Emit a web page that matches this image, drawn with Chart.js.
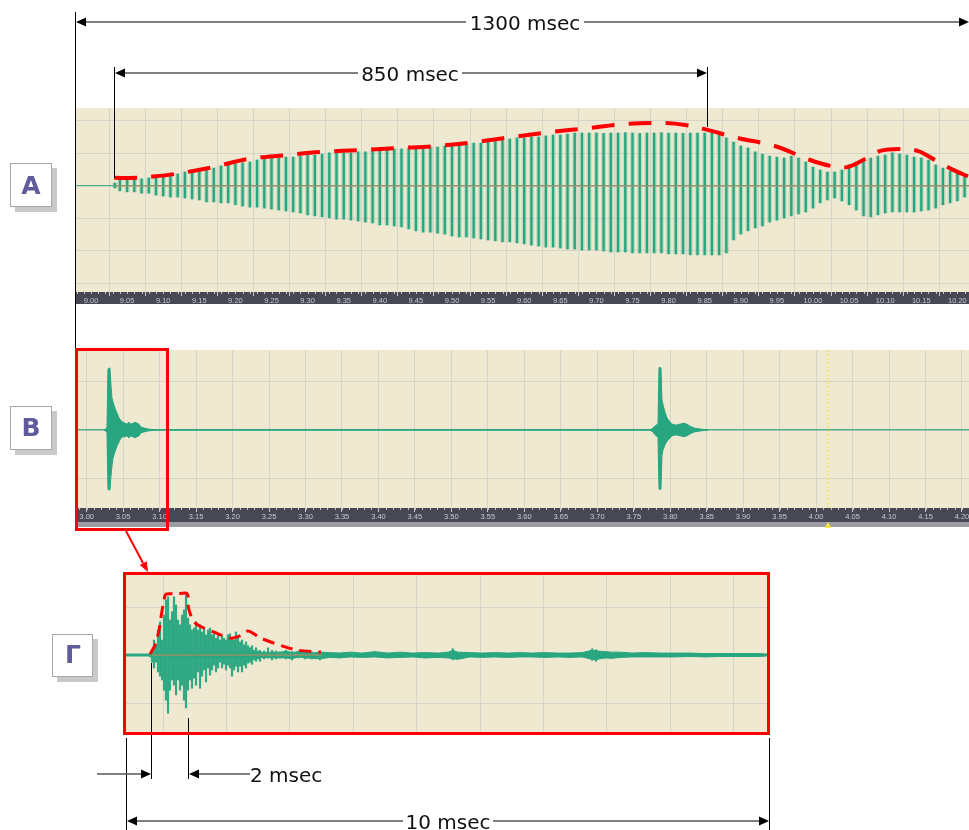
<!DOCTYPE html>
<html>
<head>
<meta charset="utf-8">
<title>Waveforms</title>
<script src="https://cdn.jsdelivr.net/npm/chart.js@4.4.1/dist/chart.umd.min.js"></script>
<style>
  html, body { margin: 0; padding: 0; background: #fff; }
  body { position: relative; width: 969px; height: 830px; overflow: hidden; font-family: "DejaVu Sans", Verdana, sans-serif; }
  .wave { position: absolute; }
  #overlay { position: absolute; left: 0; top: 0; pointer-events: none; }
  #overlay text { font-family: "DejaVu Sans", Verdana, sans-serif; }
</style>
</head>
<body>
<div class="wave" style="left:75px;top:108px;width:894px;height:196px"><canvas id="chartA" width="894" height="196"></canvas></div>
<div class="wave" style="left:75px;top:350px;width:894px;height:177px"><canvas id="chartB" width="894" height="177"></canvas></div>
<div class="wave" style="left:126px;top:575px;width:641px;height:157px"><canvas id="chartG" width="641" height="157"></canvas></div>

<svg id="overlay" width="969" height="830">
  <!-- label boxes -->
  <rect x="15" y="168" width="42" height="44" fill="#c9c9c9"/>
  <rect x="10.5" y="163.5" width="41" height="43" fill="#fff" stroke="#a8a8a8"/>
  <text x="31" y="193.5" font-size="25" font-weight="bold" fill="#5e5c9c" text-anchor="middle">А</text>
  <rect x="15" y="411" width="42" height="44" fill="#c9c9c9"/>
  <rect x="10.5" y="406.5" width="41" height="43" fill="#fff" stroke="#a8a8a8"/>
  <text x="31" y="436" font-size="25" font-weight="bold" fill="#5e5c9c" text-anchor="middle">В</text>
  <rect x="57" y="639" width="41" height="43" fill="#c9c9c9"/>
  <rect x="52.5" y="634.5" width="40" height="42" fill="#fff" stroke="#a8a8a8"/>
  <text x="73" y="663" font-size="25" font-weight="bold" fill="#5e5c9c" text-anchor="middle">Г</text>

  <!-- extension lines -->
  <g stroke="#000" stroke-width="1">
    <line x1="75.5" y1="12" x2="75.5" y2="350"/>
    <line x1="114.5" y1="67" x2="114.5" y2="178"/>
    <line x1="707.5" y1="67" x2="707.5" y2="127"/>
    <line x1="126.5" y1="738" x2="126.5" y2="830"/>
    <line x1="769.5" y1="738" x2="769.5" y2="830"/>
    <line x1="151.5" y1="663" x2="151.5" y2="779"/>
    <line x1="188.5" y1="718" x2="188.5" y2="779"/>
  </g>
  <!-- dimension lines -->
  <g stroke="#555" stroke-width="1.6">
    <line x1="84" y1="22" x2="960" y2="22"/>
    <line x1="123" y1="73" x2="698" y2="73"/>
    <line x1="97" y1="774" x2="142" y2="774"/>
    <line x1="197" y1="774" x2="250" y2="774"/>
    <line x1="135" y1="821" x2="760" y2="821"/>
  </g>
  <g fill="#000">
    <polygon points="76,22 86,17.5 86,26.5"/>
    <polygon points="969,22 959,17.5 959,26.5"/>
    <polygon points="115,73 125,68.5 125,77.5"/>
    <polygon points="707,73 697,68.5 697,77.5"/>
    <polygon points="151,774 141,769.5 141,778.5"/>
    <polygon points="189,774 199,769.5 199,778.5"/>
    <polygon points="127,821 137,816.5 137,825.5"/>
    <polygon points="769,821 759,816.5 759,825.5"/>
  </g>
  <g font-size="20" fill="#111">
    <rect x="466" y="11" width="118" height="22" fill="#fff"/>
    <text x="525" y="29.5" text-anchor="middle">1300 msec</text>
    <rect x="358" y="62" width="104" height="22" fill="#fff"/>
    <text x="410" y="80.5" text-anchor="middle">850 msec</text>
    <text x="250" y="781.5">2 msec</text>
    <rect x="403" y="810" width="90" height="22" fill="#fff"/>
    <text x="448" y="828.5" text-anchor="middle">10 msec</text>
  </g>

  <!-- red selection and zoom frame -->
  <rect x="76.5" y="349.5" width="91" height="180" fill="none" stroke="#ff0000" stroke-width="3"/>
  <line x1="126" y1="531" x2="143" y2="563" stroke="#ff0000" stroke-width="2"/>
  <polygon points="148,572 139.7,565.1 146.8,561.3" fill="#ff0000"/>
  <rect x="124.5" y="573.5" width="644" height="160" fill="none" stroke="#ff0000" stroke-width="3"/>
  <polygon points="828,522 824.5,528 831.5,528" fill="#f4e640"/>
</svg>

<script>
// ---- panel A : tone, 9.00 .. 10.20 s ----
const aTickLabels = ['9.00', '9.05', '9.10', '9.15', '9.20', '9.25', '9.30', '9.35', '9.40', '9.45', '9.50', '9.55',
    '9.60', '9.65', '9.70', '9.75', '9.80', '9.85', '9.90', '9.95', '10.00', '10.05', '10.10', '10.15', '10.20'];
const aGrid = [-3, -2, -1, 0, 1, 2];
const aTime = [
    9.033, 9.04, 9.05, 9.06, 9.07, 9.08, 9.09,
    9.10, 9.11, 9.12, 9.13, 9.14, 9.15, 9.16, 9.17, 9.18, 9.19,
    9.20, 9.21, 9.22, 9.23, 9.24, 9.25, 9.26, 9.27, 9.28, 9.29,
    9.30, 9.31, 9.32, 9.33, 9.34, 9.35, 9.36, 9.37, 9.38, 9.39,
    9.40, 9.41, 9.42, 9.43, 9.44, 9.45, 9.46, 9.47, 9.48, 9.49,
    9.50, 9.51, 9.52, 9.53, 9.54, 9.55, 9.56, 9.57, 9.58, 9.59,
    9.60, 9.61, 9.62, 9.63, 9.64, 9.65, 9.66, 9.67, 9.68, 9.69,
    9.70, 9.71, 9.72, 9.73, 9.74, 9.75, 9.76, 9.77, 9.78, 9.79,
    9.80, 9.81, 9.82, 9.83, 9.84, 9.85, 9.86, 9.87, 9.88, 9.89,
    9.90, 9.91, 9.92, 9.93, 9.94, 9.95, 9.96, 9.97, 9.98, 9.99,
    10.00, 10.01, 10.02, 10.03, 10.04, 10.05, 10.06, 10.07, 10.08, 10.09,
    10.10, 10.11, 10.12, 10.13, 10.14, 10.15, 10.16, 10.17, 10.18, 10.19,
    10.20, 10.21,
];
const aHi = [
    0.09, 0.18, 0.18, 0.22, 0.22, 0.25, 0.28,
    0.31, 0.34, 0.37, 0.43, 0.43, 0.49, 0.55, 0.55, 0.62, 0.65,
    0.68, 0.71, 0.74, 0.80, 0.83, 0.86, 0.86, 0.89, 0.89, 0.92,
    0.95, 0.95, 0.98, 1.02, 1.02, 1.02, 1.02, 1.05, 1.05, 1.08,
    1.11, 1.11, 1.14, 1.14, 1.17, 1.20, 1.20, 1.20, 1.20, 1.23,
    1.26, 1.26, 1.29, 1.32, 1.32, 1.35, 1.38, 1.42, 1.45, 1.48,
    1.48, 1.51, 1.51, 1.54, 1.57, 1.57, 1.60, 1.63, 1.63, 1.63,
    1.63, 1.62, 1.63, 1.63, 1.64, 1.63, 1.62, 1.63, 1.63, 1.64,
    1.63, 1.63, 1.62, 1.63, 1.63, 1.63, 1.63, 1.60, 1.48, 1.35,
    1.23, 1.17, 1.05, 0.98, 0.92, 0.89, 0.86, 0.92, 0.86, 0.74,
    0.58, 0.49, 0.43, 0.43, 0.49, 0.65, 0.74, 0.80, 0.86, 0.92,
    0.95, 1.02, 0.98, 0.95, 0.89, 0.86, 0.80, 0.65, 0.55, 0.46,
    0.43, 0.34,
];
const aLo = [
    -0.06, -0.15, -0.18, -0.18, -0.22, -0.22, -0.28,
    -0.31, -0.34, -0.34, -0.37, -0.40, -0.43, -0.49, -0.49, -0.52, -0.52,
    -0.58, -0.62, -0.65, -0.65, -0.68, -0.71, -0.74, -0.77, -0.80, -0.83,
    -0.89, -0.92, -0.95, -0.98, -1.02, -1.02, -1.05, -1.08, -1.11, -1.14,
    -1.20, -1.20, -1.23, -1.26, -1.32, -1.38, -1.42, -1.42, -1.45, -1.48,
    -1.54, -1.57, -1.57, -1.60, -1.63, -1.66, -1.69, -1.72, -1.72, -1.75,
    -1.78, -1.82, -1.85, -1.88, -1.88, -1.91, -1.94, -1.94, -1.97, -1.97,
    -1.97, -2.00, -2.03, -2.03, -2.03, -2.06, -2.06, -2.06, -2.06, -2.06,
    -2.09, -2.09, -2.09, -2.12, -2.12, -2.12, -2.12, -2.12, -2.06, -1.66,
    -1.48, -1.38, -1.29, -1.23, -1.11, -1.05, -0.98, -0.92, -0.86, -0.80,
    -0.68, -0.52, -0.43, -0.37, -0.46, -0.58, -0.74, -0.92, -0.95, -0.89,
    -0.83, -0.80, -0.80, -0.80, -0.80, -0.77, -0.74, -0.68, -0.58, -0.52,
    -0.46, -0.34,
];
// hand drawn red envelope over the tone
const aEnvT = [9.032, 9.064, 9.082, 9.116, 9.169, 9.217, 9.271, 9.321, 9.375, 9.428, 9.479, 9.532, 9.584, 9.636, 9.688,
    9.740, 9.792, 9.823, 9.850, 9.895, 9.947, 9.996, 10.024, 10.047, 10.072, 10.093, 10.120, 10.145, 10.169, 10.192, 10.216];
const aEnvV = [0.25, 0.25, 0.28, 0.37, 0.58, 0.83, 0.95, 1.05, 1.11, 1.17, 1.23, 1.35, 1.51, 1.66, 1.78,
    1.91, 1.94, 1.88, 1.75, 1.48, 1.23, 0.80, 0.62, 0.58, 0.83, 1.08, 1.14, 1.08, 0.80, 0.52, 0.28];

// ---- panel B : two clicks, 3.00 .. 4.20 s ----
const bTickLabels = ['3.00', '3.05', '3.10', '3.15', '3.20', '3.25', '3.30', '3.35', '3.40', '3.45', '3.50', '3.55',
    '3.60', '3.65', '3.70', '3.75', '3.80', '3.85', '3.90', '3.95', '4.00', '4.05', '4.10', '4.15', '4.20'];
const bGrid = [-1, 0, 1];
const bTime = [3.0237, 3.0278, 3.0292, 3.0319, 3.0333, 3.0347, 3.0361, 3.0388, 3.0416, 3.0443, 3.0470, 3.0498,
    3.0525, 3.0552, 3.0580, 3.0607, 3.0635, 3.0662, 3.0690, 3.0717, 3.0744, 3.0786, 3.0840, 3.0950,
    3.7722, 3.7763, 3.7804, 3.7832, 3.7846, 3.7873, 3.7887, 3.7901, 3.7928, 3.7956, 3.7983, 3.8024,
    3.8079, 3.8134, 3.8189, 3.8230, 3.8271, 3.8326, 3.8409, 3.8518];
const bHi = [0, 0.04, 1.26, 1.28, 0.93, 0.66, 0.58, 0.45, 0.35, 0.25, 0.19, 0.16,
    0.14, 0.12, 0.16, 0.12, 0.14, 0.16, 0.14, 0.12, 0.06, 0.04, 0.02, 0,
    0, 0.04, 0.10, 0.12, 1.29, 1.28, 0.62, 0.52, 0.37, 0.25, 0.19, 0.12,
    0.10, 0.12, 0.14, 0.12, 0.08, 0.04, 0.02, 0];
const bLo = [0, -0.04, -1.22, -1.24, -0.95, -0.74, -0.58, -0.45, -0.33, -0.25, -0.16, -0.14,
    -0.14, -0.12, -0.16, -0.12, -0.14, -0.16, -0.14, -0.12, -0.06, -0.04, -0.02, 0,
    0, -0.04, -0.12, -0.14, -1.22, -1.22, -0.52, -0.41, -0.31, -0.23, -0.19, -0.12,
    -0.10, -0.12, -0.14, -0.12, -0.08, -0.04, -0.02, 0];
const bCursor = 4.016;

// ---- panel Г : one click, 10 ms window (units of ms grid) ----
const gGridX = [0, 1, 2, 3, 4, 5, 6, 7, 8, 9, 10];
const gGridY = [-1, 0, 1];
// individual oscillations of the burst
const gTime = [
    0.295, 0.326, 0.358, 0.390, 0.421, 0.453, 0.484, 0.516, 0.547, 0.579, 0.610, 0.642, 0.673, 0.705, 0.737,
    0.768, 0.800, 0.831, 0.863, 0.894, 0.926, 0.957, 0.989, 1.020, 1.052, 1.084, 1.115, 1.147, 1.178, 1.210,
    1.241, 1.273, 1.304, 1.336, 1.368, 1.399, 1.431, 1.462, 1.494, 1.525, 1.557, 1.588, 1.620, 1.651, 1.683,
    1.715, 1.746, 1.778, 1.809, 1.841, 1.872, 1.904, 1.935, 1.967, 1.998, 2.030, 2.093, 2.156, 2.219, 2.282,
    2.345, 2.44, 2.535, 2.63, 2.74, 2.85, 2.976, 5.07, 7.27, 7.33,
];
const gHi = [
    0.04, 0.10, 0.31, 0.21, 0.52, 0.69, 0.31, 0.83, 1.15, 1.21, 0.73, 0.90, 1.21, 1.04, 0.73,
    0.63, 0.83, 0.94, 1.27, 0.77, 0.63, 0.52, 0.56, 0.69, 0.52, 0.63, 0.48, 0.56, 0.42, 0.52,
    0.56, 0.42, 0.48, 0.35, 0.42, 0.31, 0.40, 0.35, 0.31, 0.42, 0.44, 0.35, 0.31, 0.48, 0.35,
    0.27, 0.31, 0.21, 0.27, 0.19, 0.15, 0.19, 0.10, 0.15, 0.08, 0.10, 0.08, 0.15, 0.10, 0.08,
    0.06, 0.10, 0.07, 0.08, 0.10, 0.06, 0.08, 0.13, 0.13, 0.11,
];
const gLo = [
    -0.04, -0.15, -0.27, -0.15, -0.35, -0.44, -0.52, -0.73, -0.94, -1.21, -0.73, -0.52, -0.63, -0.83, -0.52,
    -0.73, -0.63, -0.94, -1.10, -0.73, -0.52, -0.69, -0.48, -0.63, -0.35, -0.69, -0.44, -0.31, -0.56, -0.27,
    -0.42, -0.31, -0.21, -0.35, -0.27, -0.15, -0.27, -0.19, -0.31, -0.21, -0.27, -0.44, -0.31, -0.23, -0.35,
    -0.23, -0.35, -0.21, -0.27, -0.17, -0.15, -0.19, -0.10, -0.13, -0.08, -0.13, -0.08, -0.06, -0.10, -0.08,
    -0.06, -0.08, -0.10, -0.06, -0.08, -0.08, -0.10, -0.10, -0.11, -0.13,
];
// background noise band after the burst
const gNoiseT = [-0.084, 0.25, 2.35, 2.44, 2.535, 2.63, 2.74, 2.85, 2.976, 3.13, 3.29, 3.45, 3.64, 3.84, 4.05, 4.24,
    4.43, 4.64, 4.84, 5.00, 5.07, 5.15, 5.34, 5.53, 5.73, 5.94, 6.13, 6.32, 6.53, 6.73, 6.92, 7.11,
    7.27, 7.33, 7.39, 7.49, 7.58, 7.71, 7.90, 8.10, 8.34, 8.58, 8.81, 9.05, 9.28, 9.60, 9.91, 10.027];
const gNoiseHi = [0.02, 0.02, 0.06, 0.08, 0.05, 0.07, 0.08, 0.04, 0.06, 0.05, 0.04, 0.06, 0.04, 0.07, 0.04, 0.06,
    0.04, 0.05, 0.04, 0.06, 0.10, 0.06, 0.05, 0.04, 0.05, 0.04, 0.05, 0.04, 0.05, 0.04, 0.04, 0.05,
    0.10, 0.09, 0.08, 0.07, 0.06, 0.06, 0.04, 0.05, 0.04, 0.04, 0.04, 0.03, 0.03, 0.03, 0.03, 0.02];
const gNoiseLo = [-0.02, -0.02, -0.06, -0.06, -0.08, -0.04, -0.06, -0.07, -0.08, -0.05, -0.06, -0.04, -0.05, -0.04, -0.06, -0.05,
    -0.04, -0.06, -0.05, -0.06, -0.08, -0.09, -0.04, -0.05, -0.04, -0.05, -0.04, -0.04, -0.05, -0.04, -0.05, -0.04,
    -0.09, -0.10, -0.08, -0.06, -0.07, -0.05, -0.04, -0.04, -0.04, -0.04, -0.03, -0.04, -0.03, -0.03, -0.03, -0.02];
const gEnvT = [0.295, 0.374, 0.437, 0.468, 0.516, 0.547, 0.705, 0.863, 0.894, 0.902, 1.005, 1.336, 1.572, 1.715, 1.841, 2.046, 2.424, 2.629, 2.991];
const gEnvV = [0.02, 0.21, 0.52, 0.79, 1.15, 1.27, 1.27, 1.29, 1.23, 0.98, 0.67, 0.46, 0.35, 0.40, 0.50, 0.35, 0.17, 0.10, 0.06];

const BEIGE = '#f0e9d2';
const GRID = '#d6d3c9';
const WAVE = '#27a67f';
const WAVE_LIGHT = 'rgba(90, 190, 155, 0.3)';
const ZERO = '#52aa8c';
const MID = '#c98a5c';
const RED = '#ff0000';

const points = (xs, ys) => xs.map((x, i) => ({ x: x, y: ys[i] }));
const strokes = (xs, lo, hi) => xs.map((x, i) => ({ x: x, y: [lo[i], hi[i]] }));

// paints the editor background, the dark time ruler and its minor ticks
const editorFrame = {
    id: 'editorFrame',
    beforeDraw(chart, args, o) {
        const { ctx, chartArea: a } = chart;
        ctx.save();
        ctx.fillStyle = BEIGE;
        ctx.fillRect(a.left, a.top, a.right - a.left, a.bottom - a.top);
        if (o.rulerH) {
            ctx.fillStyle = '#474853';
            ctx.fillRect(a.left, a.bottom, a.right - a.left, o.rulerH);
        }
        if (o.bandH) {
            ctx.fillStyle = '#9b9ca4';
            ctx.fillRect(a.left, a.bottom + o.rulerH, a.right - a.left, o.bandH);
        }
        ctx.restore();
    },
    afterDraw(chart, args, o) {
        if (!o.minorStep) return;
        const { ctx, chartArea: a } = chart;
        const sx = chart.scales.x;
        ctx.save();
        ctx.strokeStyle = '#c4c4ca';
        ctx.lineWidth = 1;
        ctx.beginPath();
        const first = Math.ceil(sx.min / o.minorStep);
        const last = Math.floor(sx.max / o.minorStep);
        for (let k = first; k <= last; k++) {
            const px = Math.round(sx.getPixelForValue(k * o.minorStep)) + 0.5;
            ctx.moveTo(px, a.bottom);
            ctx.lineTo(px, a.bottom + 2);
        }
        ctx.stroke();
        ctx.restore();
    },
};

function timeAxis(min, max, labels, rulerH) {
    return {
        type: 'linear',
        min: min,
        max: max,
        offset: false,
        afterBuildTicks: (s) => { s.ticks = labels.map((l) => ({ value: parseFloat(l) })); },
        afterFit: (s) => { s.height = rulerH; s.paddingLeft = 0; s.paddingRight = 0; },
        grid: { color: GRID, tickColor: '#c4c4ca', tickLength: 4 },
        border: { display: false },
        ticks: {
            callback: (v, i) => labels[i],
            color: '#c9c9d0',
            font: { family: 'Liberation Sans', size: 7.5 },
            padding: 0,
            autoSkip: false,
            maxRotation: 0,
            minRotation: 0,
        },
    };
}

function ampAxis(min, max, grid, zeroWidth) {
    return {
        min: min,
        max: max,
        afterBuildTicks: (s) => { s.ticks = grid.map((v) => ({ value: v })); },
        afterFit: (s) => { s.width = 0; },
        grid: {
            color: (c) => (c.tick && c.tick.value === 0 ? ZERO : GRID),
            lineWidth: (c) => (c.tick && c.tick.value === 0 ? zeroWidth : 1),
            drawTicks: false,
        },
        border: { display: false },
        ticks: { display: false },
    };
}

const baseOptions = {
    responsive: false,
    animation: false,
    events: [],
    layout: { padding: 0 },
};

// panel A
new Chart(document.getElementById('chartA'), {
    type: 'bar',
    data: {
        datasets: [
            {
                type: 'line', data: points(aEnvT, aEnvV), borderColor: RED, borderWidth: 4,
                borderDash: [23, 14], pointRadius: 0, tension: 0.35, fill: false, order: 0,
            },
            {
                type: 'line', data: points([aTime[0], 10.216], [0, 0]), borderColor: MID, borderWidth: 1,
                pointRadius: 0, fill: false, order: 1,
            },
            {
                data: strokes(aTime, aLo, aHi), backgroundColor: WAVE, barThickness: 1.7,
                grouped: false, order: 2,
            },
            {
                data: strokes(aTime, aLo, aHi), backgroundColor: WAVE_LIGHT, barThickness: 4.5,
                grouped: false, order: 3,
            },
        ],
    },
    options: {
        ...baseOptions,
        plugins: { legend: { display: false }, tooltip: { enabled: false }, editorFrame: { rulerH: 12, minorStep: 0.01 } },
        scales: {
            x: timeAxis(8.9778, 10.2161, aTickLabels, 12),
            y: ampAxis(-3.262, 2.4, aGrid, 1.2),
        },
    },
    plugins: [editorFrame],
});

// panel B
new Chart(document.getElementById('chartB'), {
    type: 'line',
    data: {
        datasets: [
            {
                data: points(bTime, bHi), borderColor: WAVE, borderWidth: 1, pointRadius: 0, fill: false, order: 2,
            },
            {
                data: points(bTime, bLo), borderColor: WAVE, borderWidth: 1, pointRadius: 0,
                fill: '-1', backgroundColor: WAVE, order: 2,
            },
            {
                data: points([bCursor, bCursor], [-1.608, 1.649]), borderColor: '#f3e53c', borderWidth: 1.2,
                borderDash: [2, 2], pointRadius: 0, fill: false, order: 1,
            },
        ],
    },
    options: {
        ...baseOptions,
        plugins: { legend: { display: false }, tooltip: { enabled: false }, editorFrame: { rulerH: 14, bandH: 5, minorStep: 0.01 } },
        scales: {
            x: timeAxis(2.984, 4.2096, bTickLabels, 19),
            y: ampAxis(-1.608, 1.649, bGrid, 1.5),
        },
    },
    plugins: [editorFrame],
});

// panel Г
new Chart(document.getElementById('chartG'), {
    type: 'bar',
    data: {
        datasets: [
            {
                type: 'line', data: points(gEnvT, gEnvV), borderColor: RED, borderWidth: 3,
                borderDash: [12, 7], pointRadius: 0, tension: 0.3, fill: false, order: 0,
            },
            {
                type: 'line', data: points([0.295, 3.0], [0, 0]), borderColor: MID, borderWidth: 1,
                pointRadius: 0, fill: false, order: 1,
            },
            {
                data: strokes(gTime, gLo, gHi), backgroundColor: WAVE, barThickness: 1.2,
                grouped: false, order: 2,
            },
            {
                data: strokes(gTime, gLo, gHi), backgroundColor: WAVE_LIGHT, barThickness: 2.2,
                grouped: false, order: 3,
            },
            {
                type: 'line', data: points(gNoiseT, gNoiseHi), borderColor: WAVE, borderWidth: 1,
                pointRadius: 0, tension: 0, fill: false, order: 4,
            },
            {
                type: 'line', data: points(gNoiseT, gNoiseLo), borderColor: WAVE, borderWidth: 1,
                pointRadius: 0, tension: 0, fill: '-1', backgroundColor: WAVE, order: 4,
            },
        ],
    },
    options: {
        ...baseOptions,
        plugins: { legend: { display: false }, tooltip: { enabled: false }, editorFrame: {} },
        scales: {
            x: {
                type: 'linear', min: -0.084, max: 10.027, offset: false,
                afterBuildTicks: (s) => { s.ticks = gGridX.map((v) => ({ value: v })); },
                afterFit: (s) => { s.height = 0; s.paddingLeft = 0; s.paddingRight = 0; },
                grid: { color: GRID, drawTicks: false },
                border: { display: false },
                ticks: { display: false },
            },
            y: ampAxis(-1.604, 1.667, gGridY, 1.5),
        },
    },
    plugins: [editorFrame],
});
</script>
</body>
</html>
